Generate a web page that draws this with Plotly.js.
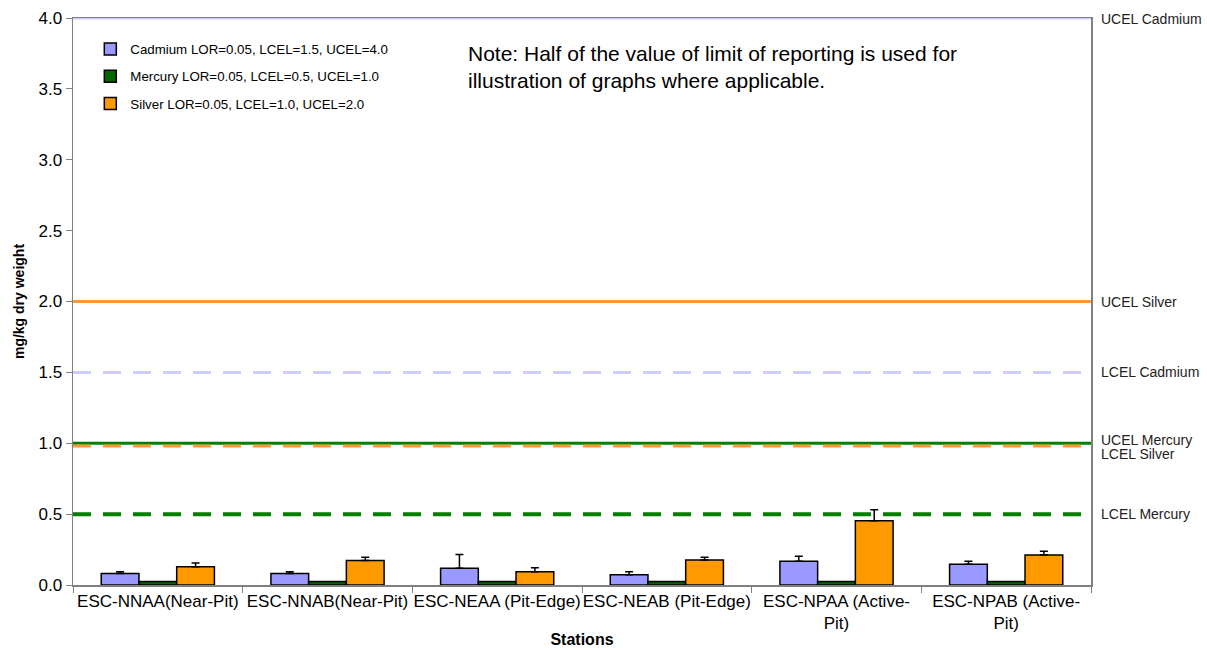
<!DOCTYPE html>
<html>
<head>
<meta charset="utf-8">
<script src="https://cdn.plot.ly/plotly-3.0.1.min.js"></script>
<style>html,body{margin:0;padding:0;background:#fff;}#chart{width:1207px;height:648px;}</style>
</head>
<body>
<div id="chart"></div>
<script>
// ---- data ----
const stations = ['ESC-NNAA(Near-Pit)', 'ESC-NNAB(Near-Pit)', 'ESC-NEAA (Pit-Edge)', 'ESC-NEAB (Pit-Edge)', 'ESC-NPAA (Active-Pit)', 'ESC-NPAB (Active-Pit)'];
const stationTickLabels = ['ESC-NNAA(Near-Pit)', 'ESC-NNAB(Near-Pit)', 'ESC-NEAA (Pit-Edge)', 'ESC-NEAB (Pit-Edge)', 'ESC-NPAA (Active-<br>Pit)', 'ESC-NPAB (Active-<br>Pit)'];
const seriesNames = ['Cadmium LOR=0.05, LCEL=1.5, UCEL=4.0', 'Mercury LOR=0.05, LCEL=0.5, UCEL=1.0', 'Silver LOR=0.05, LCEL=1.0, UCEL=2.0'];
const cadmium = [0.082, 0.082, 0.118, 0.073, 0.167, 0.146];
const cadmiumErr = [0.012, 0.012, 0.098, 0.021, 0.035, 0.021];
const mercury = [0.025, 0.025, 0.025, 0.025, 0.025, 0.025];
const silver = [0.129, 0.172, 0.094, 0.176, 0.454, 0.212];
const silverErr = [0.026, 0.023, 0.028, 0.019, 0.077, 0.026];
const refLabels = ['UCEL Cadmium', 'UCEL Silver', 'LCEL Cadmium', 'UCEL Mercury', 'LCEL Silver', 'LCEL Mercury'];
const refValues = [4.0, 2.0, 1.5, 1.0, 0.98, 0.5];
const yTickValues = [0, 0.5, 1, 1.5, 2, 2.5, 3, 3.5, 4];
const noteText = 'Note: Half of the value of limit of reporting is used for<br>illustration of graphs where applicable.';

// ---- styles ----
const FONT = 'Liberation Sans, Arial, sans-serif';
const barColors = ['#9999FF', '#006600', '#FF9900'];
const refStyles = [
  {color: '#CCCCFF', dash: 'solid', width: 3},
  {color: '#FF9933', dash: 'solid', width: 3},
  {color: '#CCCCFF', dash: '18px,12px', width: 3},
  {color: '#008000', dash: 'solid', width: 3},
  {color: '#FF9933', dash: '18px,12px', width: 3},
  {color: '#008000', dash: '18px,12px', width: 4}
];
const refLabelShift = [-1, 0, 0, 3, -8, 0];

const series = [cadmium, mercury, silver];
const errs = [cadmiumErr, null, silverErr];
const traces = series.map((vals, i) => {
  const t = {
    type: 'bar', x: stations, y: vals, name: seriesNames[i],
    legendgroup: 'g' + i,
    marker: {color: barColors[i], line: {color: '#000', width: 1.5}}
  };
  if (errs[i]) {
    t.error_y = {type: 'data', symmetric: false, array: errs[i], arrayminus: vals.map(() => 0),
                 color: '#000', thickness: 1.5, width: 4};
  }
  return t;
});

const shapes = refValues.map((v, i) => ({
  type: 'line', xref: 'paper', yref: 'y', x0: 0, x1: 1, y0: v, y1: v,
  line: {color: refStyles[i].color, width: refStyles[i].width, dash: refStyles[i].dash},
  layer: 'above'
}));

const annotations = refValues.map((v, i) => ({
  xref: 'paper', yref: 'y', x: 1, y: v, xanchor: 'left', yanchor: 'middle',
  xshift: 8, yshift: refLabelShift[i], text: refLabels[i], showarrow: false,
  font: {family: FONT, size: 14, color: '#222'}
}));
annotations.push({
  xref: 'paper', yref: 'paper', x: (466 - 73) / 1018, y: (585 - 40) / 567,
  xanchor: 'left', yanchor: 'top', align: 'left', text: noteText, showarrow: false,
  font: {family: FONT, size: 21, color: '#000'}
});

const layout = {
  width: 1207, height: 648,
  margin: {l: 73, r: 116, t: 18, b: 63, pad: 0},
  paper_bgcolor: '#fff', plot_bgcolor: '#fff',
  font: {family: FONT, color: '#000'},
  barmode: 'group', bargap: 0.333, bargroupgap: 0,
  showlegend: true,
  legend: {x: 0.017, y: 0.972, xanchor: 'left', yanchor: 'top', bgcolor: 'rgba(0,0,0,0)',
           font: {family: FONT, size: 13.3, color: '#000'}, tracegroupgap: 7, itemwidth: 30,
           traceorder: 'grouped'},
  xaxis: {
    type: 'category', tickvals: stations, ticktext: stationTickLabels, tickangle: 0,
    showline: true, linecolor: '#808080', linewidth: 1.5, mirror: true,
    ticks: 'outside', tickson: 'boundaries', ticklen: 6, tickcolor: '#808080',
    showgrid: false, tickfont: {family: FONT, size: 17, color: '#000'},
    title: {text: '<b>Stations</b>', font: {family: FONT, size: 16, color: '#000'}, standoff: 8}
  },
  yaxis: {
    range: [0, 4], tickvals: yTickValues, tickformat: '.1f',
    showline: true, linecolor: '#808080', linewidth: 1.5, mirror: true,
    ticks: 'outside', ticklen: 6, tickcolor: '#808080', showgrid: false, zeroline: false,
    tickfont: {family: FONT, size: 17, color: '#000'},
    title: {text: '<b>mg/kg dry weight</b>', font: {family: FONT, size: 14, color: '#000'}, standoff: 10}
  },
  shapes: shapes,
  annotations: annotations
};

Plotly.newPlot('chart', traces, layout, {displayModeBar: false, staticPlot: true});
</script>
</body>
</html>
